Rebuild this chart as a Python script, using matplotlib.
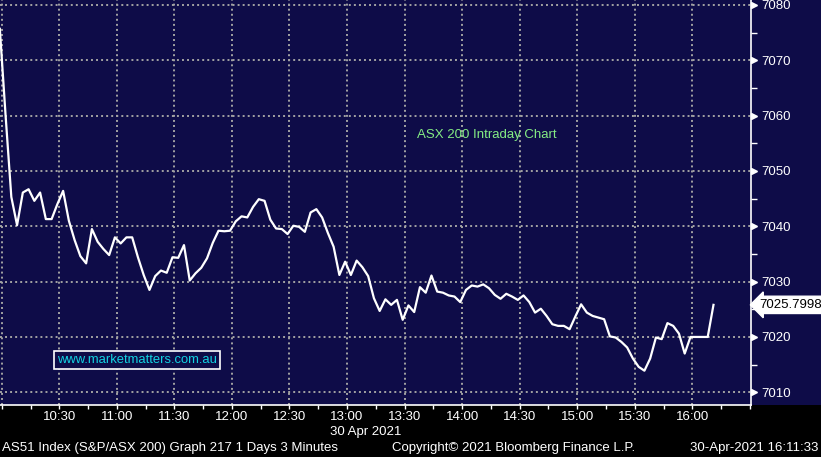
import numpy as np
import matplotlib
matplotlib.use('Agg')
import matplotlib.pyplot as plt
import matplotlib.transforms as mtransforms
from matplotlib.patches import Rectangle
from matplotlib.ticker import MultipleLocator

# ASX 200 (AS51) 3-minute closes, 30 Apr 2021
first_bar = -1   # minutes after 10:00 of the first bar
bar_step = 3     # minutes per bar
prices = [
    7075.7, 7060.1, 7045.3, 7040.2, 7046.1, 7046.7, 7044.6, 7046.1, 7041.3, 7041.3,
    7044.0, 7046.4, 7041.0, 7037.5, 7034.6, 7033.3, 7039.5, 7037.2, 7035.9, 7034.8,
    7038.0, 7036.9, 7038.0, 7038.0, 7034.4, 7031.2, 7028.5, 7031.0, 7032.0, 7031.6,
    7034.4, 7034.3, 7036.6, 7030.2, 7031.5, 7032.5, 7034.2, 7037.0, 7039.2, 7039.1,
    7039.2, 7040.9, 7041.8, 7041.6, 7043.5, 7044.9, 7044.6, 7041.2, 7039.6, 7039.5,
    7038.6, 7040.1, 7039.9, 7039.0, 7042.5, 7043.1, 7041.6, 7038.8, 7036.3, 7031.2,
    7033.6, 7031.2, 7033.8, 7032.6, 7031.0, 7027.0, 7024.7, 7026.8, 7025.8, 7026.7,
    7023.1, 7025.7, 7024.5, 7029.0, 7028.0, 7031.1, 7028.2, 7028.0, 7027.5, 7027.3,
    7026.3, 7028.5, 7029.3, 7029.1, 7029.5, 7028.8, 7027.6, 7026.9, 7027.8, 7027.3,
    7026.7, 7027.5, 7026.3, 7024.4, 7025.1, 7023.8, 7022.3, 7022.0, 7022.0, 7021.4,
    7023.7, 7025.9, 7024.4, 7023.8, 7023.5, 7023.2, 7020.1, 7019.9, 7019.1, 7018.1,
    7016.1, 7014.6, 7013.9, 7016.1, 7019.9, 7019.6, 7022.5, 7022.0, 7020.6, 7017.0,
    7020.0, 7020.0, 7020.0, 7020.0, 7025.7998,
]
times = first_bar + bar_step * np.arange(len(prices))

# axis ticks (minutes after 10:00) and labels
time_ticks = [0, 30, 60, 90, 120, 150, 180, 210, 240, 270, 300, 330, 360]
time_labels = ['', '10:30', '11:00', '11:30', '12:00', '12:30', '13:00',
               '13:30', '14:00', '14:30', '15:00', '15:30', '16:00']
price_ticks = [7010, 7020, 7030, 7040, 7050, 7060, 7070, 7080]

navy = '#0e0c48'
grid_col = '#a3a3a3'
bbg_font = 'Liberation Sans'
fs = 9.5
W, H = 821, 457

fig = plt.figure(figsize=(W / 100, H / 100), dpi=100, facecolor='black')
# navy panel behind the price scale
fig.patches.append(Rectangle((750 / W, 52 / H), 71 / W, 405 / H,
                             transform=fig.transFigure, facecolor=navy,
                             edgecolor='none', zorder=-1))

ax = fig.add_axes([0, 52 / H, 750.7 / W, 405 / H])
ax.set_facecolor(navy)
ax.set_xlim(-0.9, 390.4)
ax.set_ylim(7007.7, 7080.9)

ax.plot(times, prices, color='white', lw=1.6, zorder=3)

# grid
ax.set_xticks(time_ticks)
ax.set_xticklabels(time_labels)
ax.set_yticks(price_ticks)
ax.xaxis.set_minor_locator(MultipleLocator(15))
ax.yaxis.set_minor_locator(MultipleLocator(5))
ax.grid(True, which='major', color=grid_col, ls=(0, (1, 1.6)), lw=1.4)

# spines
for s in ['left', 'top']:
    ax.spines[s].set_visible(False)
for s in ['right', 'bottom']:
    ax.spines[s].set_color('white')
    ax.spines[s].set_linewidth(1.2)

ax.yaxis.tick_right()
ax.tick_params(axis='x', which='both', direction='out', length=3, width=1,
               color='white', labelcolor='white', pad=1, labelsize=fs)
ax.tick_params(axis='y', which='major', length=0, pad=7.5,
               labelcolor='white', labelsize=fs)
ax.tick_params(axis='y', which='minor', direction='out', length=4, width=1,
               color='white')
for lab in ax.get_xticklabels() + ax.get_yticklabels():
    lab.set_family(bbg_font)

# arrow heads on major price ticks
offs = mtransforms.ScaledTranslation(3.5 / 100, 0, fig.dpi_scale_trans)
ax.plot(np.ones(len(price_ticks)), price_ticks, transform=ax.get_yaxis_transform() + offs,
        marker='>', ms=4.5, color='white', ls='none', clip_on=False)

# last price tag
ax.annotate(f'{prices[-1]:.4f}', xy=(1, prices[-1]), xycoords=ax.get_yaxis_transform(),
            xytext=(9, 0), textcoords='offset pixels', ha='left', va='center',
            color='black', fontsize=fs, family=bbg_font, annotation_clip=False,
            bbox=dict(boxstyle='larrow,pad=0.2', fc='white', ec='white'))

# chart title and watermark
ax.text(0.648, 0.667, 'ASX 200 Intraday Chart', transform=ax.transAxes,
        ha='center', va='center', color='#84ec84', fontsize=9.5,
        family='Liberation Sans')
ax.text(0.1825, 0.112, 'www.marketmatters.com.au', transform=ax.transAxes,
        ha='center', va='center', color='#12d2e2', fontsize=9.4,
        family='Liberation Sans',
        bbox=dict(boxstyle='square,pad=0.22', fc=navy, ec='white', lw=1.2))

# footer
fig.text(365.5 / W, 1 - 432 / H, '30 Apr 2021', ha='center', va='center',
         color='white', fontsize=fs, family=bbg_font)
fig.text(2 / W, 1 - 448 / H, 'AS51 Index (S&P/ASX 200) Graph 217 1 Days 3 Minutes',
         ha='left', va='center', color='white', fontsize=fs, family=bbg_font)
fig.text(392 / W, 1 - 448 / H, 'Copyright\u00a9 2021 Bloomberg Finance L.P.',
         ha='left', va='center', color='white', fontsize=fs, family=bbg_font)
fig.text(818 / W, 1 - 448 / H, '30-Apr-2021 16:11:33',
         ha='right', va='center', color='white', fontsize=fs, family=bbg_font)

fig.savefig('out.png', dpi=100, facecolor='black')
